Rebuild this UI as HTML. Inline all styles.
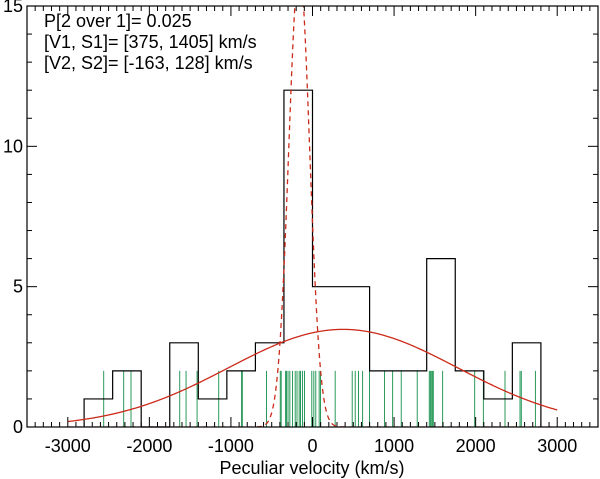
<!DOCTYPE html>
<html><head><meta charset="utf-8"><style>
html,body{margin:0;padding:0;background:#fff;}
svg{display:block;font-family:"Liberation Sans",Arial,sans-serif;}
</style></head><body>
<svg id="chart" width="600" height="479" viewBox="0 0 600 479" xmlns="http://www.w3.org/2000/svg">
<g id="plot"></g>
<g id="axes"></g>
<g font-size="18" fill="#000">
<text x="44" y="27">P[2 over 1]= 0.025</text>
<text x="44" y="48">[V1, S1]= [375, 1405] km/s</text>
<text x="44" y="69">[V2, S2]= [-163, 128] km/s</text>
</g>
<text x="312" y="474" font-size="18" text-anchor="middle">Peculiar velocity (km/s)</text>
</svg>
<script>
const velocities = [-2560,-2315,-2225,-1628,-1550,-1415,-1150,-860,-870,-564,-384,-395,
 -330,-319,-300,-278,-245,-212,-190,-163,-147,-123,-98,-9,
 16,40,82,98,278,487,524,564,614,699,883,982,1088,1284,
 1432,1445,1456,1470,1481,1595,1988,2095,2360,2544,2560,2733];
const binEdges = [-2800,-2450,-2100,-1750,-1400,-1050,-700,-350,0,350,700,1050,1400,1750,2100,2450,2800];
const xTicks = [-3000,-2000,-1000,0,1000,2000,3000];
const yTicks = [0,5,10,15];
const broad = {mean:375, sigma:1405, weight:0.70};
const narrow = {mean:-163, sigma:128, weight:0.30};

const NS='http://www.w3.org/2000/svg';
const X0=27,X1=598,Y0=427,Y1=6, XMIN=-3500,XMAX=3500,YMIN=0,YMAX=15;
const sx=v=>X0+(v-XMIN)/(XMAX-XMIN)*(X1-X0);
const sy=v=>Y0-(v-YMIN)/(YMAX-YMIN)*(Y0-Y1);
function mk(tag,attrs,parent){const e=document.createElementNS(NS,tag);for(const k in attrs)e.setAttribute(k,attrs[k]);parent.appendChild(e);return e;}
const plot=document.getElementById('plot'), axes=document.getElementById('axes');

const defs=mk('defs',{},plot);
const cp=mk('clipPath',{id:'clip'},defs);
mk('rect',{x:X0,y:Y1,width:X1-X0,height:Y0-Y1},cp);

const counts=binEdges.slice(0,-1).map((e,i)=>velocities.filter(v=>v>=e&&v<binEdges[i+1]).length);
velocities.forEach(v=>{
  const l=mk('line',{x1:sx(v),x2:sx(v),y1:sy(0),y2:sy(2),stroke:'#2a9a5a','stroke-width':1},plot);
  
  
});
let d='M'+sx(binEdges[0])+','+sy(0);
counts.forEach((c,i)=>{d+=' L'+sx(binEdges[i])+','+sy(c)+' L'+sx(binEdges[i+1])+','+sy(c);});
d+=' L'+sx(binEdges[binEdges.length-1])+','+sy(0);
const h=mk('path',{d:d,fill:'none',stroke:'#000','stroke-width':1.2},plot);


const N=velocities.length, bw=binEdges[1]-binEdges[0];
function gpath(g){let p='';for(let v=-3000;v<=3000;v+=10){const y=g.weight*N*bw/(Math.sqrt(2*Math.PI)*g.sigma)*Math.exp(-0.5*((v-g.mean)/g.sigma)**2);p+=(p?' L':'M')+sx(v).toFixed(2)+','+sy(y).toFixed(2);}return p;}
const b=mk('path',{d:gpath(broad),fill:'none',stroke:'#cc2a1a','stroke-width':1.3,'clip-path':'url(#clip)'},plot);


const n=mk('path',{d:gpath(narrow),fill:'none',stroke:'#cc2a1a','stroke-width':1.3,'stroke-dasharray':'5,4','clip-path':'url(#clip)'},plot);



const fr=mk('rect',{x:X0,y:Y1,width:X1-X0,height:Y0-Y1,fill:'none',stroke:'#000','stroke-width':1.2},axes);


for(let v=XMIN;v<=XMAX;v+=100){
  const maj=v%1000===0, L=maj?10:5;
  mk('line',{x1:sx(v),x2:sx(v),y1:Y0,y2:Y0-L,stroke:'#000'},axes);
  mk('line',{x1:sx(v),x2:sx(v),y1:Y1,y2:Y1+L,stroke:'#000'},axes);
}
xTicks.forEach(v=>{
  const t=mk('text',{x:sx(v),y:452,'font-size':18,'text-anchor':'middle'},axes);
  t.textContent=String(v);
  
  
});
for(let v=YMIN;v<=YMAX;v+=1){
  const maj=v%5===0, L=maj?10:5;
  mk('line',{x1:X0,x2:X0+L,y1:sy(v),y2:sy(v),stroke:'#000'},axes);
  mk('line',{x1:X1,x2:X1-L,y1:sy(v),y2:sy(v),stroke:'#000'},axes);
}
yTicks.forEach(v=>{
  const t=mk('text',{x:23,y:sy(v)+6,'font-size':18,'text-anchor':'end'},axes);
  t.textContent=String(v);
  
  
});
</script>
</body></html>
